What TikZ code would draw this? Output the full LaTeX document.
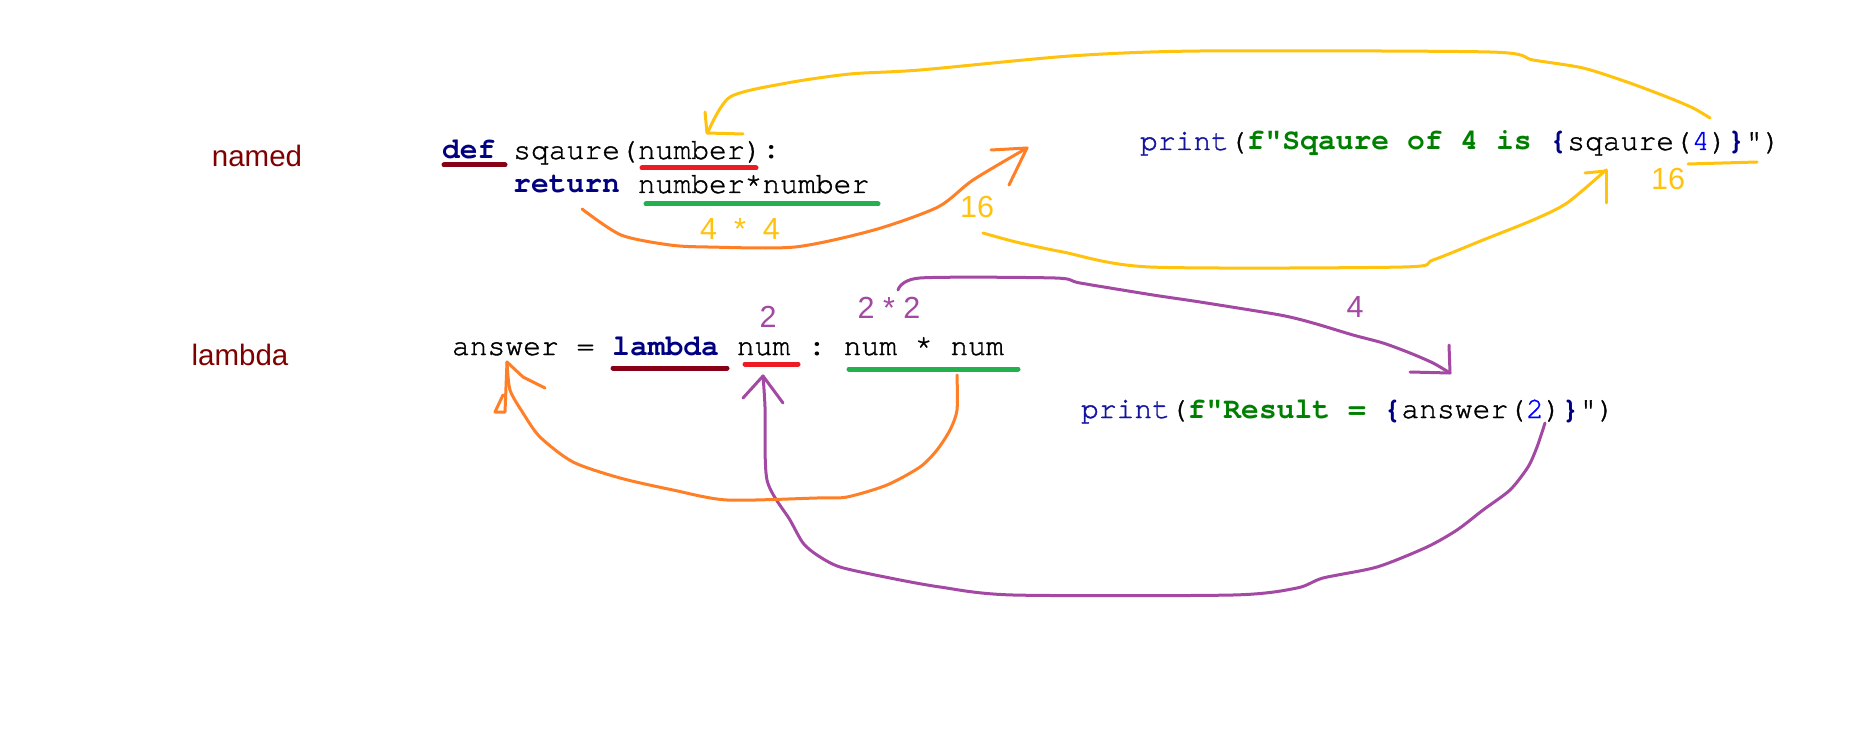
\documentclass[tikz,border=0pt]{standalone}
\usepackage{fontspec}
\setmainfont{Liberation Sans}
\newfontfamily\codefont{TeX Gyre Cursor}[UprightFeatures={FakeBold=1.2}]
\definecolor{kwc}{RGB}{0,0,128}
\definecolor{prc}{RGB}{20,20,160}
\definecolor{strc}{RGB}{0,128,0}
\definecolor{numc}{RGB}{0,0,255}
\definecolor{lblc}{RGB}{128,0,0}
\definecolor{dredc}{RGB}{136,0,21}
\definecolor{redc}{RGB}{237,28,36}
\definecolor{greenc}{RGB}{34,177,76}
\definecolor{orangec}{RGB}{255,127,39}
\definecolor{goldc}{RGB}{255,195,14}
\definecolor{purplec}{RGB}{163,73,164}
\newcommand{\cf}{\codefont\fontsize{29.67pt}{36pt}\selectfont\frenchspacing}
\newcommand{\kw}[1]{\textcolor{kwc}{\bfseries #1}}
\begin{document}
\begin{tikzpicture}[x=1pt,y=-1pt,
  code/.style={anchor=base west,inner sep=0pt,outer sep=0pt,font=\cf},
  sidelabel/.style={anchor=base,inner sep=0pt,text=lblc,font=\fontsize{29.5pt}{34pt}\selectfont},
  val/.style={anchor=base,inner sep=0pt,font=\fontsize{30.5pt}{34pt}\selectfont},
  ul/.style={line width=5pt,line cap=round},
  ink/.style={line width=3pt,line cap=round,line join=round},
  curve/.style={ink,smooth,tension=0.45}]
\useasboundingbox (0,0) rectangle (1852,743);
\fill[white] (0,0) rectangle (1852,743);

% side labels
\node[sidelabel] (named) at (257,167) {named};
\node[sidelabel] (lam) at (240,365) {lambda};

% code lines
\node[code] (defl) at (442,159) {\kw{def}\ sqaure(number)\textbf{:}};
\node[code] (retl) at (513.2,193) {\kw{return}\ number*number};
\node[code] (lambl) at (452,355) {answer\ =\ \kw{lambda}\ num\ \textbf{:}\ num\ *\ num};
\node[code] (pr1) at (1140,150) {\textcolor{prc}{print}(\textcolor{strc}{\bfseries f"Sqaure\ of\ 4\ is\ }\kw{\{}sqaure(\textcolor{numc}{4})\kw{\}}")};
\node[code] (pr2) at (1081,418) {\textcolor{prc}{print}(\textcolor{strc}{\bfseries f"Result\ =\ }\kw{\{}answer(\textcolor{numc}{2})\kw{\}}")};

% underlines
\draw[ul,dredc] (444,165) -- (505,165);
\draw[ul,redc] (642,168) -- (756,168);
\draw[ul,greenc] (646,204) -- (878,204);
\draw[ul,dredc] (613,368) -- (727,368);
\draw[ul,redc] (745,364) -- (798,364);
\draw[ul,greenc] (849,369) -- (1018,369);

% value labels
\node[val,text=goldc] (v44) at (740,240) {4\ \ *\ \ 4};
\node[val,text=goldc] (v16a) at (977,218) {16};
\node[val,text=goldc] (v16b) at (1668,190) {16};
\node[val,text=purplec] (v22) at (889,319) {2 * 2};
\node[val,text=purplec] (v2) at (768,327) {2};
\node[val,text=purplec] (v4) at (1355,317) {4};

% named coordinates for connector ends
\coordinate (retS) at (582,209);
\coordinate (retT) at (1027,148);
\coordinate (sqS) at (1710,118);
\coordinate (numT) at (708,132);
\coordinate (s16S) at (983,233);
\coordinate (sqT) at (1606,170);
\coordinate (p22S) at (898,290);
\coordinate (resT) at (1450,373);
\coordinate (a2S) at (1545,423);
\coordinate (numL) at (763,376);
\coordinate (mulS) at (957,375);
\coordinate (ansT) at (507,362);

% orange: return -> 16
\draw[curve,orangec] plot coordinates {(retS) (621,235) (670,245) (708,247) (795,247) (874,230) (938,207) (973,180) (retT)};
\draw[ink,orangec] (991,150) -- (retT) -- (1009,185);

% yellow: print(...) -> number
\draw[curve,goldc] plot coordinates {(sqS) (1693,108) (1667,97) (1627,82) (1583,68) (1533,60) (1490,52) (1200,51) (1070,56) (920,70) (850,74) (787,83) (730,97) (numT)};
\draw[ink,goldc] (705,112) -- (707,133) -- (743,134);
\draw[ink,goldc] (1688,164) -- (1757,162);

% yellow: 16 -> sqaure(4)
\draw[curve,goldc] plot coordinates {(s16S) (1016,242) (1063,252) (1150,267) (1403,267) (1433,260) (1483,240) (1533,220) (1567,203) (sqT)};
\draw[ink,goldc] (1585,173) -- (1606,171);
\draw[ink,goldc] (sqT) -- (1606,203);

% purple: 2*2 -> print Result
\draw[curve,purplec] plot coordinates {(p22S) (920,278) (1055,278) (1080,283) (1153,295) (1200,302) (1280,315) (1313,323) (1353,335) (1383,343) (1410,353) (1433,363) (resT)};
\draw[ink,purplec] (1449,345) -- (resT) -- (1410,372);

% purple: answer(2) -> num
\draw[curve,purplec] plot coordinates {(a2S) (1537,447) (1528,467) (1510,490) (1483,510) (1457,530) (1427,547) (1377,567) (1323,578) (1297,588) (1233,595) (1013,595) (940,587) (890,578) (840,567) (817,555) (803,543) (790,520) (767,480) (765,407) (numL)};
\draw[ink,purplec] (743,398) -- (numL) -- (783,403);

% orange: num*num -> answer
\draw[curve,orangec] plot coordinates {(mulS) (957,410) (950,430) (937,450) (920,467) (887,485) (847,497) (817,498) (727,500) (673,490) (620,478) (573,462) (540,437) (523,413) (510,390) (ansT)};
\draw[ink,orangec] (ansT) -- (523,377) -- (545,388);
\draw[ink,orangec] (ansT) -- (505,412) -- (495,412) -- (503,395);
\end{tikzpicture}
\end{document}
